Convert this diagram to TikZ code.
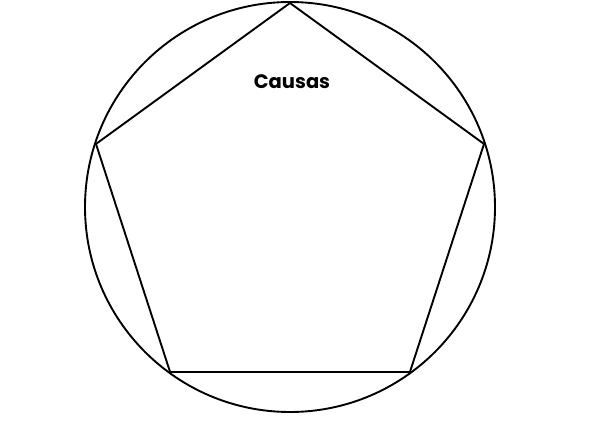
\documentclass[tikz,border=0pt]{standalone}
\usepackage{fontspec}
\setmainfont{Poppins}
\usetikzlibrary{calc}
\begin{document}
\begin{tikzpicture}[x=1pt,y=1pt,
  shapeline/.style={draw=black,line width=1.9pt},
  label/.style={font=\fontsize{19.5}{22}\selectfont\bfseries,text=black}]
\useasboundingbox (0,0) rectangle (600,424);
\coordinate (c) at (290,217);
\draw[shapeline] (c) circle (205);
\foreach \i in {0,...,4} {
  \coordinate (p\i) at ($(c)+({90+72*\i}:204)$);
}
\draw[shapeline,line join=round] (p0) -- (p1) -- (p2) -- (p3) -- (p4) -- cycle;
\node[label] (t) at (292,342) {Causas};
\end{tikzpicture}
\end{document}
